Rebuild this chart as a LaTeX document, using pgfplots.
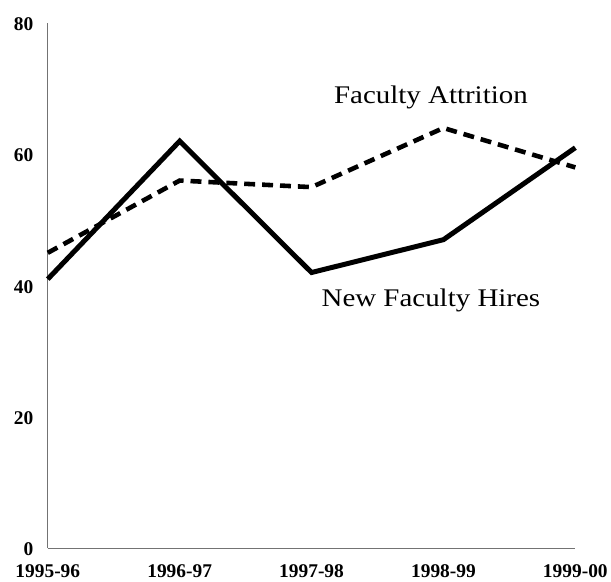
\documentclass[border=0pt]{standalone}
\usepackage{pgfplots}
\pgfplotsset{compat=1.18}
\usepackage{fontspec}
\setmainfont{Liberation Serif}
\newfontfamily\labfont[FakeStretch=1.14]{Liberation Serif}
\begin{document}
\begin{tikzpicture}[x=1pt,y=1pt]
\begin{axis}[
  scale only axis,
  width=530pt, height=528pt,
  xmin=0, xmax=4, ymin=0, ymax=80,
  axis x line=bottom, axis y line=left,
  axis line style={-, draw=black!55, line width=1pt},
  xtick={0,1,2,3,4},
  xticklabels={1995-96,1996-97,1997-98,1998-99,1999-00},
  ytick={0,20,40,60,80},
  major tick length=0pt,
  /pgf/number format/assume math mode=true,
  tick label style={font=\fontsize{19.5}{20}\selectfont\bfseries},
  yticklabel style={anchor=east, xshift=-11pt, yshift=-1pt},
  xticklabel style={anchor=north, yshift=-13pt},
  clip=false,
]
\addplot[black, line width=5pt, line join=miter] coordinates {
  (0,41) (1,62) (2,42) (3,47) (4,61)};
\addplot[black, line width=4.6pt, dash pattern=on 11pt off 7pt] coordinates {
  (0,45) (1,56) (2,55) (3,64) (4,58)};
\node[anchor=base, font=\labfont\fontsize{25.5}{26}\selectfont] at (axis cs:2.905,67.7) {Faculty Attrition};
\node[anchor=base, font=\labfont\fontsize{25.5}{26}\selectfont] at (axis cs:2.905,36.8) {New Faculty Hires};
\end{axis}
\path (current axis.south west) ++(-48pt,-32pt) coordinate (bl);
\path (current axis.north east) ++(33pt,23pt) coordinate (tr);
\path (bl) rectangle (tr);
\end{tikzpicture}
\end{document}
